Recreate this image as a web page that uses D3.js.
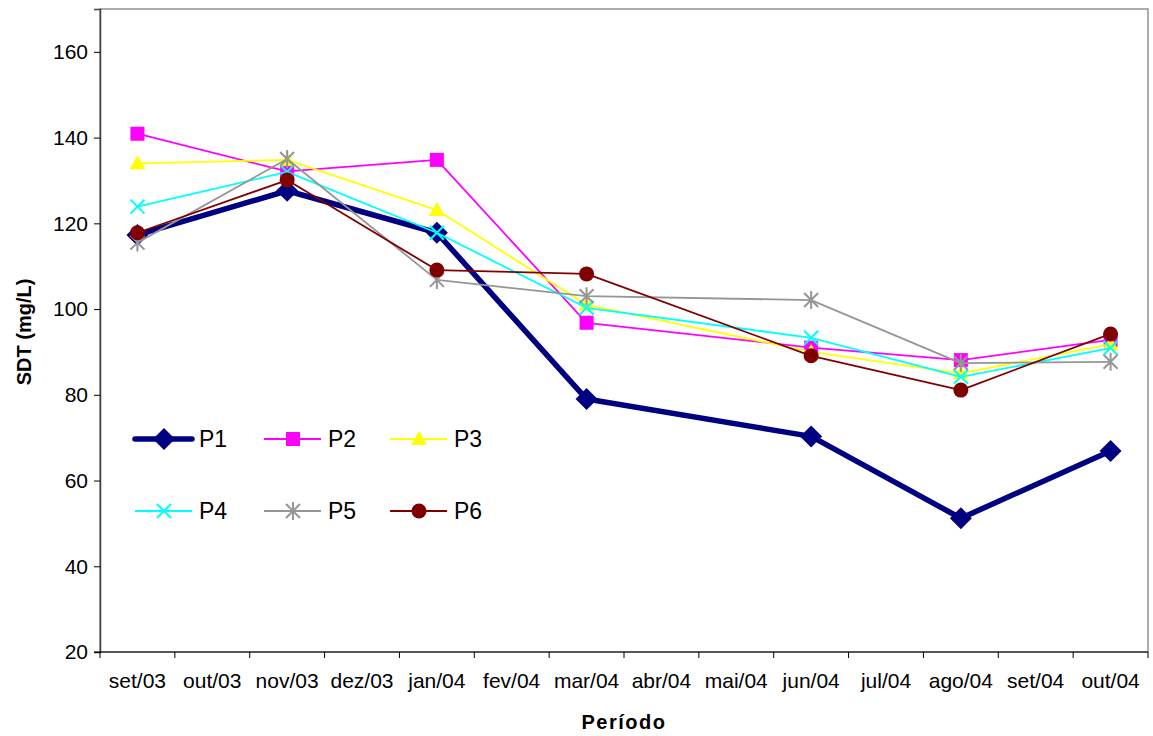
<!DOCTYPE html>
<html>
<head>
<meta charset="utf-8">
<script src="https://cdn.jsdelivr.net/npm/d3@7"></script>
<style>
  body { margin: 0; background: #fff; }
  svg text { font-family: "Liberation Sans", Arial, sans-serif; }
</style>
</head>
<body>
<svg id="chart" width="1153" height="736"></svg>
<script>
// ── Data ────────────────────────────────────────────────────────────────
var months = ["set/03", "out/03", "nov/03", "dez/03", "jan/04", "fev/04", "mar/04",
              "abr/04", "mai/04", "jun/04", "jul/04", "ago/04", "set/04", "out/04"];
var sampled = ["set/03", "nov/03", "jan/04", "mar/04", "jun/04", "ago/04", "out/04"];
var yTicks = [20, 40, 60, 80, 100, 120, 140, 160];

var P1 = [117.3, 127.6, 117.8, 79, 70.3, 51.2, 66.9];
var P2 = [140.9, 132.1, 134.8, 96.8, 91, 88.1, 92.8];
var P3 = [134, 134.8, 123.1, 101, 90, 85, 91.8];
var P4 = [123.9, 132, 117.8, 100.3, 93.3, 84.2, 90.9];
var P5 = [115.5, 135, 106.8, 103, 102.1, 87.4, 87.7];
var P6 = [117.8, 130.1, 109.1, 108.2, 89.1, 81.1, 94.2];

var seriesNames = ["P1", "P2", "P3", "P4", "P5", "P6"];
var seriesValues = [P1, P2, P3, P4, P5, P6];

// ── Styles ──────────────────────────────────────────────────────────────
var styles = {
  P1: { color: "#000080", width: 5.5, marker: "diamond" },
  P2: { color: "#ff00ff", width: 1.8, marker: "square" },
  P3: { color: "#ffff00", width: 1.8, marker: "triangle" },
  P4: { color: "#00ffff", width: 1.8, marker: "cross" },
  P5: { color: "#969696", width: 1.8, marker: "asterisk" },
  P6: { color: "#800000", width: 1.8, marker: "circle" }
};

var svg = d3.select("#chart");
var L = 100, R = 1148, T = 9, B = 652;

var x = d3.scaleBand().domain(months).range([L, R]);
var y = d3.scaleLinear().domain([20, 170]).range([B, T]);

// ── Frame & axes ────────────────────────────────────────────────────────
svg.append("rect")
  .attr("x", L).attr("y", T).attr("width", R - L).attr("height", B - T)
  .attr("fill", "none").attr("stroke", "#808080").attr("stroke-width", 1.3);

var yAxis = svg.append("g")
  .attr("transform", "translate(" + L + ",0)")
  .call(d3.axisLeft(y).tickValues(yTicks).tickSize(6).tickPadding(6));
yAxis.select(".domain").attr("stroke", "#404040").attr("stroke-width", 1.5);
yAxis.selectAll(".tick line").attr("stroke", "#000");
yAxis.selectAll("text").attr("font-size", "21px").attr("fill", "#000")
  .attr("font-family", "Liberation Sans, Arial, sans-serif");

var xAxis = svg.append("g").attr("transform", "translate(0," + B + ")");
xAxis.append("line").attr("x1", L - 6).attr("x2", R).attr("y1", 0).attr("y2", 0)
  .attr("stroke", "#000").attr("stroke-width", 1.2);
xAxis.selectAll("line.tk")
  .data(months.concat(["end"]))
  .join("line").attr("class", "tk")
  .attr("x1", function (d, i) { return i < months.length ? x(d) : R; })
  .attr("x2", function (d, i) { return i < months.length ? x(d) : R; })
  .attr("y1", 0).attr("y2", 6)
  .attr("stroke", "#000");
xAxis.selectAll("text")
  .data(months)
  .join("text")
  .attr("x", function (d) { return x(d) + x.bandwidth() / 2; })
  .attr("y", 36)
  .attr("text-anchor", "middle")
  .attr("font-size", "21px")
  .text(function (d) { return d; });

svg.append("text")
  .attr("transform", "translate(31," + 332 + ") rotate(-90)")
  .attr("text-anchor", "middle")
  .attr("font-size", "20px").attr("font-weight", "bold")
  .text("SDT (mg/L)");

svg.append("text")
  .attr("x", 624).attr("y", 729)
  .attr("text-anchor", "middle")
  .attr("font-size", "20px").attr("font-weight", "bold")
  .attr("letter-spacing", "1.5px")
  .text("Período");

// ── Markers ─────────────────────────────────────────────────────────────
function drawMarker(g, type, color) {
  if (type === "diamond") {
    g.append("path").attr("d", "M0,-11L11,0L0,11L-11,0Z").attr("fill", color);
  } else if (type === "square") {
    g.append("rect").attr("x", -7).attr("y", -7).attr("width", 14).attr("height", 14).attr("fill", color);
  } else if (type === "triangle") {
    g.append("path").attr("d", "M0,-8L8,6L-8,6Z").attr("fill", color);
  } else if (type === "cross") {
    g.append("path").attr("d", "M-7,-7L7,7M-7,7L7,-7").attr("stroke", color).attr("stroke-width", 2);
  } else if (type === "asterisk") {
    g.append("path").attr("d", "M-7,-7L7,7M-7,7L7,-7M0,-9L0,9").attr("stroke", color).attr("stroke-width", 2);
  } else if (type === "circle") {
    g.append("circle").attr("r", 7.5).attr("fill", color);
  }
}

var line = d3.line()
  .x(function (d, i) { return x(sampled[i]) + x.bandwidth() / 2; })
  .y(function (d) { return y(d); });

seriesNames.forEach(function (name, si) {
  var st = styles[name];
  var vals = seriesValues[si];
  var g = svg.append("g").attr("class", "series-" + name);
  g.append("path").datum(vals)
    .attr("d", line)
    .attr("fill", "none")
    .attr("stroke", st.color)
    .attr("stroke-width", st.width)
    .attr("stroke-linejoin", "round");
  vals.forEach(function (v, i) {
    var m = g.append("g")
      .attr("transform", "translate(" + (x(sampled[i]) + x.bandwidth() / 2) + "," + y(v) + ")");
    drawMarker(m, st.marker, st.color);
  });
});

// ── Legend ──────────────────────────────────────────────────────────────
var legendCols = [135, 264, 390];
var legendRows = [439, 511];
seriesNames.forEach(function (name, i) {
  var st = styles[name];
  var lx = legendCols[i % 3], ly = legendRows[Math.floor(i / 3)];
  var g = svg.append("g").attr("transform", "translate(" + lx + "," + ly + ")");
  g.append("line").attr("x1", 0).attr("x2", 57).attr("y1", 0).attr("y2", 0)
    .attr("stroke", st.color).attr("stroke-width", st.width)
    .attr("stroke-linecap", name === "P1" ? "round" : "butt");
  var m = g.append("g").attr("transform", "translate(29,0)");
  drawMarker(m, st.marker, st.color);
  g.append("text").attr("x", 64).attr("y", 8)
    .attr("font-size", "23px").text(name);
});
</script>
</body>
</html>
